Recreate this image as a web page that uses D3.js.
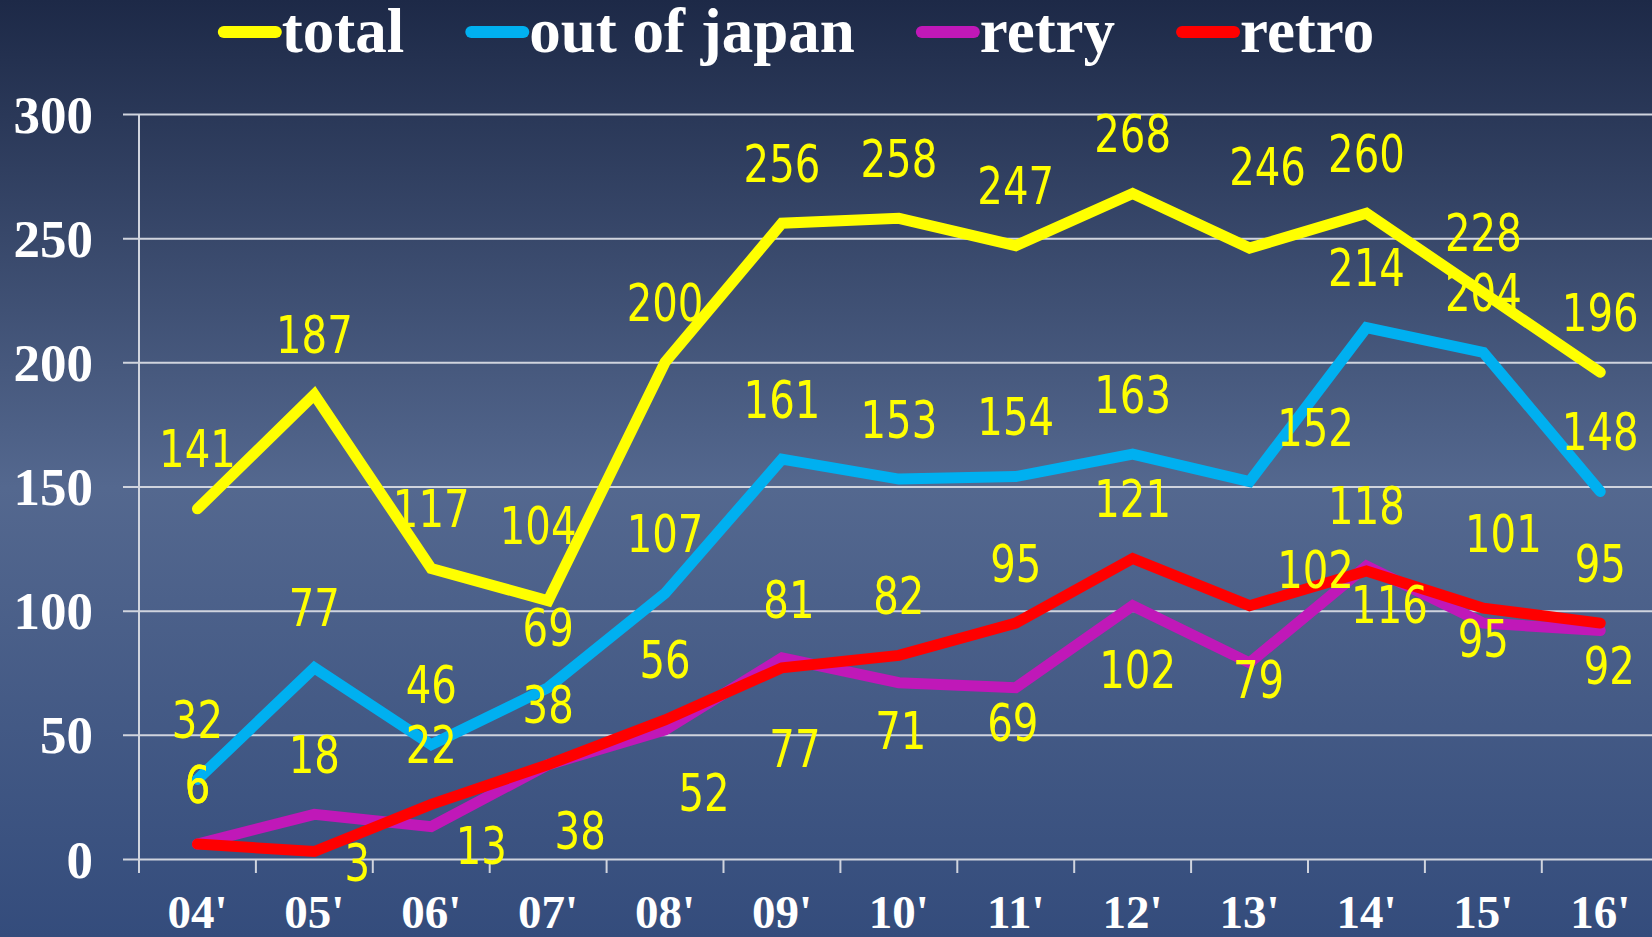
<!DOCTYPE html>
<html>
<head>
<meta charset="utf-8">
<script src="https://cdnjs.cloudflare.com/ajax/libs/d3/7.8.5/d3.min.js"></script>
<style>
  html, body { margin: 0; padding: 0; background: #2c3c62; }
  svg { display: block; }
</style>
</head>
<body>
<div id="chart"></div>
<script>
// data
var years = ["04'", "05'", "06'", "07'", "08'", "09'", "10'", "11'", "12'", "13'", "14'", "15'", "16'"];
var total = [141, 187, 117, 104, 200, 256, 258, 247, 268, 246, 260, 228, 196];
var outOfJapan = [32, 77, 46, 69, 107, 161, 153, 154, 163, 152, 214, 204, 148];
var retry = [6, 18, 13, 38, 52, 81, 71, 69, 102, 79, 118, 95, 92];
var retro = [6, 3, 22, 38, 56, 77, 82, 95, 121, 102, 116, 101, 95];
var yTicks = [0, 50, 100, 150, 200, 250, 300];

var series = [
  {name: "total", values: total, color: "#ffff00"},
  {name: "out of japan", values: outOfJapan, color: "#00b0f0"},
  {name: "retry", values: retry, color: "#c018b8"},
  {name: "retro", values: retro, color: "#ff0000"}
];

// hand placed label nudges [dx, dy] (label centre vs point), default is above
var labelNudge = {
  "total": {3: [-10, -75], 9: [18, -82]},
  "out of japan": {9: [66, -54]},
  "retry": {2: [50, 19], 3: [32, 66], 4: [39, 63], 5: [7, -58], 6: [2, 48], 7: [-3, 35],
            8: [5, 64], 9: [9, 17], 11: [0, 15], 12: [9, 35]},
  "retro": {1: [43, 11], 5: [13, 81], 9: [66, -36], 10: [23, 34], 11: [20, -75]}
};

var W = 1652, H = 937;
var margin = {top: 114, left: 139, bottom: 78};

var svg = d3.select("#chart")
  .append("svg")
  .attr("width", W)
  .attr("height", H);

var grad = svg.append("defs").append("linearGradient")
  .attr("id", "bg").attr("x1", 0).attr("y1", 0).attr("x2", 0).attr("y2", 1);
grad.append("stop").attr("offset", "0%").attr("stop-color", "#1d2947");
grad.append("stop").attr("offset", "52%").attr("stop-color", "#54688f");
grad.append("stop").attr("offset", "100%").attr("stop-color", "#344c7c");

svg.append("rect").attr("width", W).attr("height", H).attr("fill", "url(#bg)");

// scales: the plot runs a little past the right edge like the original
var x = d3.scaleBand()
  .domain(years)
  .range([margin.left, margin.left + 13 * 116.9]);

var y = d3.scaleLinear()
  .domain([0, 300])
  .range([H - margin.bottom, margin.top]);

var cx = function(i) { return x(years[i]) + x.bandwidth() / 2; };

// gridlines + y labels
var yAxis = d3.axisLeft(y)
  .tickValues(yTicks)
  .tickSize(-(W - margin.left + 20))
  .tickPadding(46)
  .tickFormat(d3.format("d"));

var gy = svg.append("g")
  .attr("transform", "translate(" + margin.left + ",0)")
  .call(yAxis);
gy.select(".domain").remove();
gy.selectAll(".tick line")
  .attr("x1", -16)
  .attr("stroke", "#d0d4de")
  .attr("stroke-width", 2);
gy.selectAll(".tick text")
  .attr("fill", "#ffffff")
  .attr("dy", "0.34em")
  .style("font-family", "'Liberation Serif', 'Times New Roman', serif")
  .style("font-weight", "bold")
  .style("font-size", "53px");

// x axis: ticks between categories
var gx = svg.append("g")
  .attr("transform", "translate(0," + y(0) + ")")
  .call(d3.axisBottom(x).tickSize(0).tickPadding(36));
gx.select(".domain").remove();
gx.selectAll(".tick text")
  .attr("fill", "#ffffff")
  .attr("dy", "0.71em")
  .style("font-family", "'Liberation Serif', 'Times New Roman', serif")
  .style("font-weight", "bold")
  .style("font-size", "47px");

svg.append("g").selectAll("line")
  .data(years)
  .enter()
  .append("line")
    .attr("x1", function(d) { return x(d) + x.bandwidth(); })
    .attr("x2", function(d) { return x(d) + x.bandwidth(); })
    .attr("y1", y(0))
    .attr("y2", y(0) + 14)
    .attr("stroke", "#d0d4de")
    .attr("stroke-width", 2);

svg.append("line")
  .attr("x1", margin.left).attr("x2", margin.left)
  .attr("y1", y(300)).attr("y2", y(0) + 14)
  .attr("stroke", "#d0d4de")
  .attr("stroke-width", 2);

// lines
var line = d3.line()
  .x(function(d, i) { return cx(i); })
  .y(function(d) { return y(d); });

svg.append("g").selectAll("path")
  .data(series)
  .enter()
  .append("path")
    .attr("d", function(s) { return line(s.values); })
    .attr("fill", "none")
    .attr("stroke", function(s) { return s.color; })
    .attr("stroke-width", 11)
    .attr("stroke-linecap", "round")
    .attr("stroke-linejoin", "miter");

// data labels (squeezed a bit, the original font is narrow)
series.forEach(function(s) {
  var nudge = labelNudge[s.name] || {};
  svg.append("g").selectAll("text")
    .data(s.values)
    .enter()
    .append("text")
      .attr("transform", function(d, i) {
        var lx = cx(i) + (nudge[i] ? nudge[i][0] : 0);
        var ly = y(d) + (nudge[i] ? nudge[i][1] : -60) + 18.5;
        return "translate(" + lx + "," + ly + ") scale(0.86,1)";
      })
      .attr("text-anchor", "middle")
      .attr("fill", "#ffff00")
      .style("font-family", "'Liberation Sans Narrow', 'DejaVu Sans Condensed', sans-serif")
      .style("font-size", "52px")
      .text(function(d) { return d; });
});

// legend, centred on top
var legend = svg.append("g");
var lx = 0;
series.forEach(function(s) {
  var item = legend.append("g").attr("transform", "translate(" + lx + ",0)");
  item.append("line")
    .attr("x1", 6).attr("x2", 58)
    .attr("y1", 32).attr("y2", 32)
    .attr("stroke", s.color)
    .attr("stroke-width", 12)
    .attr("stroke-linecap", "round");
  var t = item.append("text")
    .attr("x", 64)
    .attr("y", 52)
    .attr("fill", "#ffffff")
    .style("font-family", "'Liberation Serif', 'Times New Roman', serif")
    .style("font-weight", "bold")
    .style("font-size", "63px")
    .text(s.name);
  lx += 64 + t.node().getComputedTextLength() + 61;
});
legend.attr("transform", "translate(" + (796 - (lx - 61) / 2) + ",0)");
</script>
</body>
</html>
